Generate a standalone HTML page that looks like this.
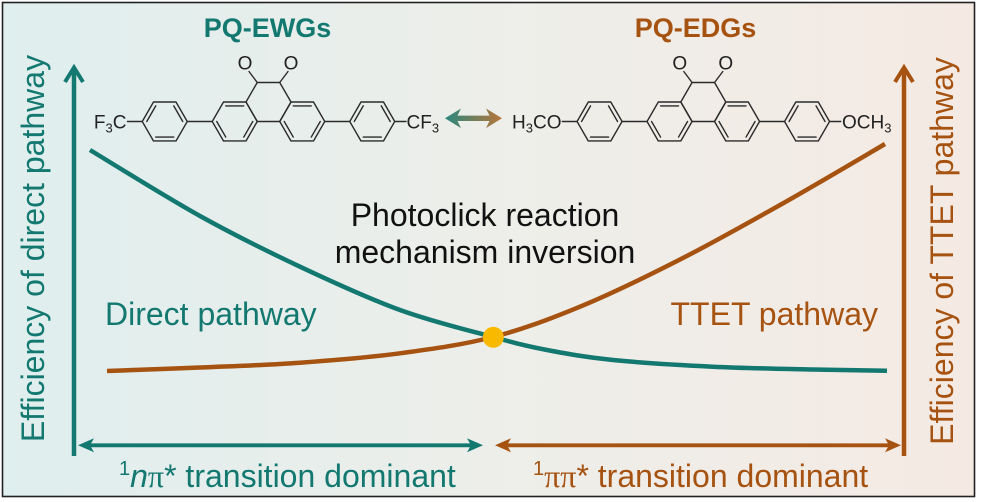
<!DOCTYPE html>
<html>
<head>
<meta charset="utf-8">
<style>
  html, body { margin: 0; padding: 0; background: #ffffff; }
  body { width: 981px; height: 502px; overflow: hidden; }
  svg { display: block; font-family: "Liberation Sans", Arial, sans-serif; }
</style>
</head>
<body>
<svg width="981" height="502" viewBox="0 0 981 502" xmlns="http://www.w3.org/2000/svg">
  <defs>
    <linearGradient id="bg" x1="0" y1="0" x2="1" y2="0">
      <stop offset="0" stop-color="#dfeeee"/>
      <stop offset="0.5" stop-color="#edeeea"/>
      <stop offset="1" stop-color="#f5eae3"/>
    </linearGradient>
    <linearGradient id="arr" x1="445" y1="0" x2="502" y2="0" gradientUnits="userSpaceOnUse">
      <stop offset="0" stop-color="#2a877d"/>
      <stop offset="1" stop-color="#b8763a"/>
    </linearGradient>
    <g id="core" fill="none" stroke="#2b2b2b" stroke-width="1.4" stroke-linejoin="round" stroke-linecap="round">
      <polygon points="-11.25,-19.49 11.25,-19.49 22.5,0 11.25,19.49 -11.25,19.49 -22.5,0"/>
      <polygon points="-45,0 -22.5,0 -11.25,19.49 -22.5,38.98 -45,38.98 -56.25,19.49"/>
      <polygon points="22.5,0 45,0 56.25,19.49 45,38.98 22.5,38.98 11.25,19.49"/>
      <polygon points="-81.25,19.49 -92.5,0 -115,0 -126.25,19.49 -115,38.98 -92.5,38.98"/>
      <polygon points="81.25,19.49 92.5,0 115,0 126.25,19.49 115,38.98 92.5,38.98"/>
      <line x1="-56.25" y1="19.49" x2="-81.25" y2="19.49"/>
      <line x1="56.25" y1="19.49" x2="81.25" y2="19.49"/>
      <line x1="-126.25" y1="19.49" x2="-141" y2="19.49"/>
      <line x1="126.25" y1="19.49" x2="137.5" y2="19.49"/>
      <line x1="-11.25" y1="-19.49" x2="-19.5" y2="-30.5"/>
      <line x1="11.25" y1="-19.49" x2="19.5" y2="-30.5"/>
      <line x1="-42.75" y1="3.9" x2="-24.75" y2="3.9"/>
      <line x1="-15.75" y1="19.49" x2="-24.75" y2="35.08"/>
      <line x1="-42.75" y1="35.08" x2="-51.75" y2="19.49"/>
      <line x1="24.75" y1="3.9" x2="42.75" y2="3.9"/>
      <line x1="15.75" y1="19.49" x2="24.75" y2="35.08"/>
      <line x1="51.75" y1="19.49" x2="42.75" y2="35.08"/>
      <line x1="-121.75" y1="19.49" x2="-112.75" y2="3.9"/>
      <line x1="-94.75" y1="3.9" x2="-85.75" y2="19.49"/>
      <line x1="-94.75" y1="35.08" x2="-112.75" y2="35.08"/>
      <line x1="121.75" y1="19.49" x2="112.75" y2="3.9"/>
      <line x1="94.75" y1="3.9" x2="85.75" y2="19.49"/>
      <line x1="94.75" y1="35.08" x2="112.75" y2="35.08"/>
    </g>
  </defs>

  <rect x="0" y="0" width="981" height="502" fill="#ffffff"/>
  <rect x="2.5" y="2.5" width="972" height="494" fill="url(#bg)" stroke="#222222" stroke-width="1.6"/>

  <text x="267.5" y="37" text-anchor="middle" font-size="27" font-weight="bold" fill="#127870">PQ-EWGs</text>
  <text x="695.5" y="37" text-anchor="middle" font-size="27" font-weight="bold" fill="#a65210">PQ-EDGs</text>

  <use href="#core" transform="translate(268.5,102)"/>
  <use href="#core" transform="translate(703.3,102)"/>

  <g font-size="19" fill="#222222">
    <text x="245" y="69.5" text-anchor="middle">O</text>
    <text x="291" y="69.5" text-anchor="middle">O</text>
    <text x="679.8" y="69.5" text-anchor="middle">O</text>
    <text x="725.8" y="69.5" text-anchor="middle">O</text>
    <text x="126.5" y="128.5" text-anchor="end">F<tspan font-size="13" dy="4">3</tspan><tspan dy="-4">C</tspan></text>
    <text x="406.5" y="128.5">CF<tspan font-size="13" dy="4">3</tspan></text>
    <text x="561.5" y="128.5" text-anchor="end">H<tspan font-size="13" dy="4">3</tspan><tspan dy="-4">CO</tspan></text>
    <text x="842" y="128.5">OCH<tspan font-size="13" dy="4">3</tspan></text>
  </g>

  <polygon fill="url(#arr)" points="445,118.3 461,108.5 457.5,115.6 489.5,115.6 486,108.5 502,118.3 486,128.1 489.5,121 457.5,121 461,128.1"/>

  <g fill="none" stroke="#127870" stroke-width="4.5">
    <line x1="74" y1="68" x2="74" y2="456"/>
    <polyline points="65,82 74,67.5 83,82" stroke-linejoin="miter" stroke-width="4"/>
    <line x1="84" y1="445.3" x2="478" y2="445.3" stroke-width="3.8"/>
  </g>
  <polygon fill="#127870" points="78,445.3 94,438.3 90,445.3 94,452.3"/>
  <polygon fill="#127870" points="483,445.3 467,438.3 471,445.3 467,452.3"/>

  <g fill="none" stroke="#a65210" stroke-width="4.5">
    <line x1="904" y1="68" x2="904" y2="456"/>
    <polyline points="895,82 904,67.5 913,82" stroke-linejoin="miter" stroke-width="4"/>
    <line x1="500" y1="445.3" x2="896" y2="445.3" stroke-width="3.8"/>
  </g>
  <polygon fill="#a65210" points="495,445.3 511,438.3 507,445.3 511,452.3"/>
  <polygon fill="#a65210" points="901,445.3 885,438.3 889,445.3 885,452.3"/>

  <text transform="translate(44,248.5) rotate(-90)" text-anchor="middle" font-size="32" fill="#127870">Efficiency of direct pathway</text>
  <text transform="translate(953,251) rotate(-90)" text-anchor="middle" font-size="32" fill="#a65210">Efficiency of TTET pathway</text>

  <path fill="none" stroke="#127870" stroke-width="4.5" stroke-linecap="butt"
    d="M90,150 C108.3,161 165,196.55 200,216 C235,235.45 266.7,251 300,266.7 C333.3,282.4 367.8,298.3 400,310 C432.2,321.7 468.5,330.3 493,337 C517.5,343.7 527,346.2 547,350 C567,353.8 585.3,357.2 613,360 C640.7,362.8 679.7,365.1 713,366.7 C746.3,368.3 784,368.8 813,369.5 C842,370.2 874.7,370.5 887,370.7"/>
  <path fill="none" stroke="#a65210" stroke-width="4.5" stroke-linecap="butt"
    d="M107,371 C122.5,370.4 167.8,368.9 200,367.5 C232.2,366.1 266.7,365.1 300,362.7 C333.3,360.3 367.8,357.6 400,353.3 C432.2,349 463,344.8 493,337 C523,329.2 548.8,319.6 580,306.7 C611.2,293.8 646.7,276.5 680,259.5 C713.3,242.6 745.8,224.25 780,205 C814.2,185.75 867.5,154.2 885,144"/>
  <circle cx="493.3" cy="337.3" r="10.5" fill="#f8b900"/>

  <text x="485" y="226" text-anchor="middle" font-size="32" fill="#111111">Photoclick reaction</text>
  <text x="485" y="263" text-anchor="middle" font-size="32" fill="#111111">mechanism inversion</text>

  <text x="105" y="325" font-size="32" fill="#127870">Direct pathway</text>
  <text x="670.5" y="325" font-size="32" fill="#a65210">TTET pathway</text>

  <text x="119" y="487" font-size="32" fill="#127870"><tspan font-size="20" dy="-12">1</tspan><tspan dy="12" font-style="italic">n</tspan><tspan font-family="Liberation Serif, serif">π</tspan>* transition dominant</text>
  <text x="533" y="487" font-size="32" fill="#a65210"><tspan font-size="20" dy="-12">1</tspan><tspan dy="12" font-family="Liberation Serif, serif">ππ</tspan>* transition dominant</text>
</svg>
</body>
</html>
